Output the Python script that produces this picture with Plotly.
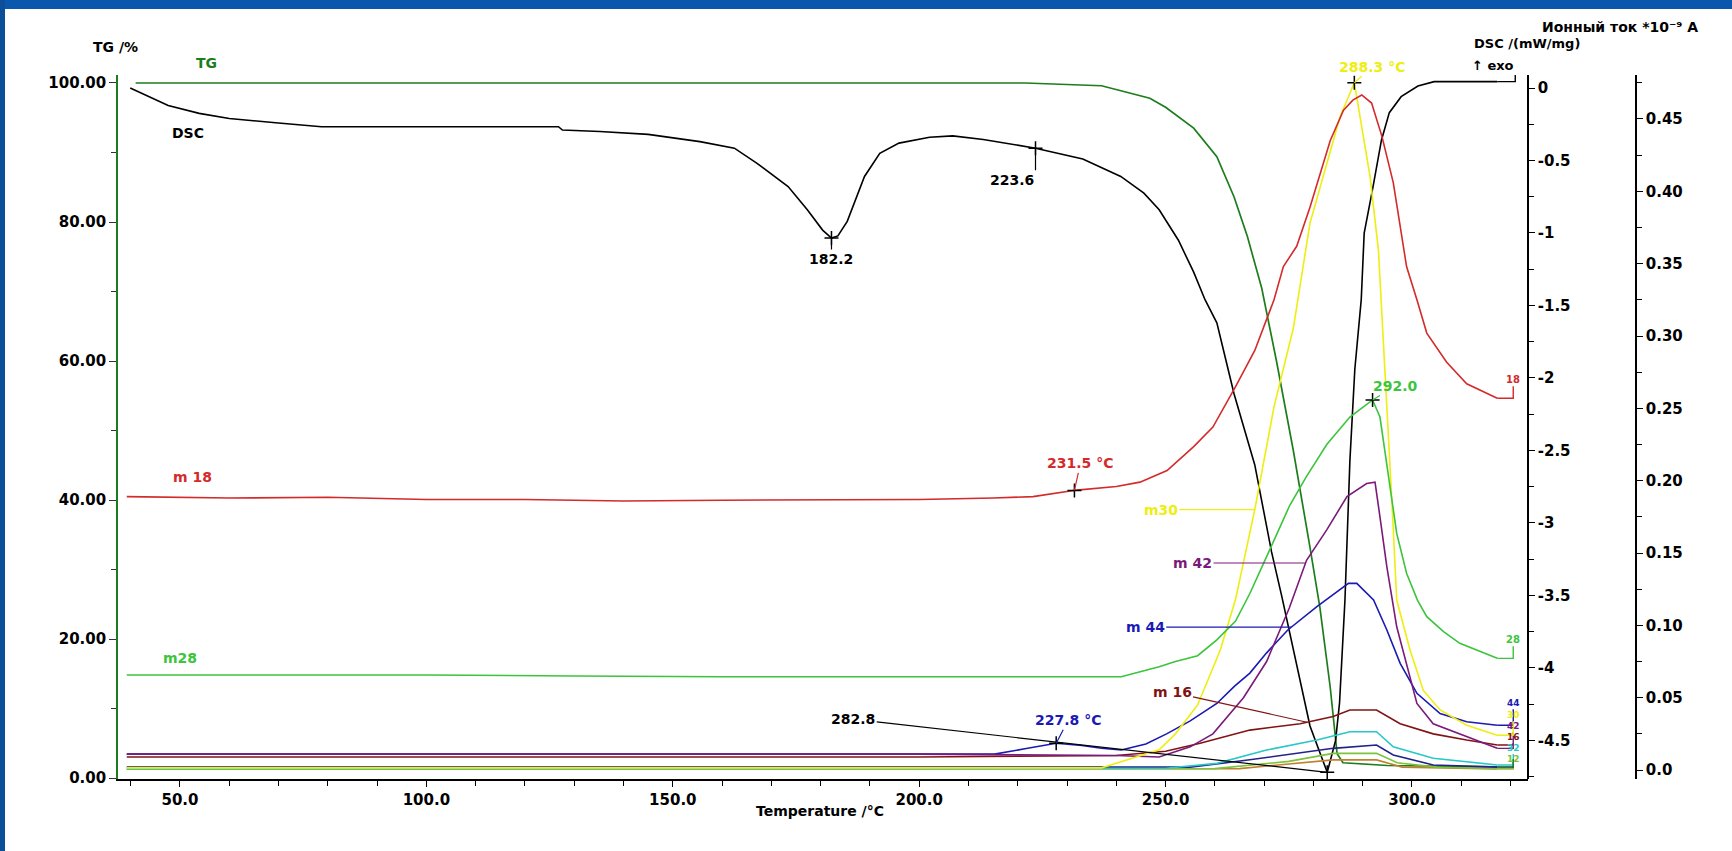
import numpy as np
import plotly.graph_objects as go

# ---------------- data ----------------
# DSC signal, mW/mg (exo up)
dsc_temp = [39.9, 43.0, 47.6, 53.9, 60.0, 69.4, 78.7, 100.0, 126.8, 127.6, 135.2, 145.0,
            155.5, 162.5, 167.1, 173.4, 177.3, 180.4, 182.2, 183.5, 185.4, 188.9, 192.0,
            195.9, 202.1, 206.8, 213.0, 223.6, 233.2, 240.9, 245.6, 248.7, 252.6, 255.7,
            258.0, 260.4, 263.9, 268.1, 271.5, 273.6, 275.3, 279.3, 282.8, 284.5, 285.3,
            286.4, 287.4, 288.4, 289.7, 290.3, 292.1, 293.8, 295.4, 297.8, 301.2, 304.5, 317.3]
dsc_val = [0.0, -0.05, -0.12, -0.175, -0.21, -0.24, -0.267, -0.267, -0.267, -0.29, -0.30, -0.32,
           -0.37, -0.415, -0.52, -0.68, -0.84, -0.98, -1.035, -1.02, -0.92, -0.61, -0.45,
           -0.38, -0.34, -0.33, -0.355, -0.415, -0.49, -0.61, -0.725, -0.84, -1.05, -1.27,
           -1.46, -1.62, -2.11, -2.6, -3.2, -3.51, -3.78, -4.4, -4.72, -4.5, -4.24,
           -3.53, -2.57, -1.94, -1.46, -1.0, -0.68, -0.36, -0.17, -0.06, 0.014, 0.044, 0.044]

# TG, mass %
tg_temp = [41.0, 100.0, 150.0, 200.0, 221.5, 237.0, 246.8, 250.0, 255.7, 260.4, 263.9, 266.6,
           269.5, 272.5, 275.9, 279.3, 281.3, 283.4, 284.0, 284.8, 286.0, 295.0, 317.3]
tg_val = [100.0, 100.0, 100.0, 100.0, 100.0, 99.6, 97.8, 96.5, 93.5, 89.4, 83.6, 77.9,
          70.5, 60.0, 47.2, 33.2, 24.6, 13.1, 8.8, 3.5, 2.2, 1.8, 1.6]

# ion currents, 1e-9 A
m18_temp = [39.2, 60.0, 80.0, 100.0, 120.0, 140.0, 160.0, 180.0, 200.0, 215.0, 223.1, 232.0,
            240.0, 244.8, 250.3, 255.7, 259.6, 264.2, 268.1, 272.0, 273.9, 276.6, 279.3, 283.4,
            286.1, 288.0, 289.8, 291.8, 293.9, 296.2, 298.9, 301.0, 303.0, 307.0, 311.1, 317.3]
m18_val = [0.189, 0.188, 0.1885, 0.187, 0.187, 0.186, 0.1865, 0.1865, 0.187, 0.188, 0.189, 0.1935,
           0.196, 0.199, 0.207, 0.2235, 0.237, 0.265, 0.29, 0.325, 0.348, 0.362, 0.389, 0.435,
           0.456, 0.463, 0.4666, 0.461, 0.438, 0.406, 0.348, 0.325, 0.302, 0.282, 0.267, 0.257]

m28_temp = [39.2, 100.0, 130.0, 160.0, 200.0, 241.0, 248.7, 252.0, 256.5, 260.4, 264.2, 267.1,
            271.9, 275.2, 278.6, 282.7, 287.4, 292.0, 293.5, 294.9, 296.9, 298.9, 301.1, 303.0,
            306.4, 309.7, 313.8, 317.3]
m28_val = [0.0657, 0.0657, 0.065, 0.0645, 0.0645, 0.0645, 0.0714, 0.075, 0.079, 0.090, 0.103, 0.122,
           0.158, 0.183, 0.203, 0.225, 0.244, 0.2558, 0.244, 0.21, 0.1636, 0.136, 0.1175, 0.106,
           0.0956, 0.0876, 0.0818, 0.0772]

m30_temp = [39.2, 150.0, 237.0, 248.7, 252.0, 256.5, 261.1, 264.2, 268.1, 272.0, 275.9, 279.3,
            282.7, 285.4, 288.3, 289.5, 291.5, 293.2, 294.9, 295.9, 296.9, 299.6, 302.3, 305.7,
            311.1, 317.3]
m30_val = [0.0015, 0.0015, 0.0015, 0.014, 0.025, 0.045, 0.083, 0.118, 0.18, 0.251, 0.305, 0.378,
           0.42, 0.4516, 0.475, 0.45, 0.41, 0.359, 0.256, 0.187, 0.1175, 0.083, 0.055, 0.0415,
           0.031, 0.024]

m42_temp = [39.2, 100.0, 200.0, 240.0, 248.7, 255.0, 259.6, 265.8, 270.5, 275.1, 278.6, 282.7,
            286.8, 290.8, 292.5, 293.5, 294.9, 296.9, 298.9, 301.0, 304.3, 311.1, 317.3]
m42_val = [0.011, 0.011, 0.011, 0.010, 0.009, 0.016, 0.025, 0.05, 0.075, 0.112, 0.145, 0.166,
           0.189, 0.198, 0.199, 0.175, 0.1405, 0.099, 0.0737, 0.046, 0.032, 0.023, 0.015]

m44_temp = [39.2, 100.0, 150.0, 200.0, 215.3, 222.0, 227.8, 233.0, 237.0, 241.0, 246.0, 250.2,
            255.0, 260.4, 264.0, 267.1, 270.5, 274.8, 280.7, 287.1, 288.8, 292.2, 294.9, 297.6,
            301.0, 305.7, 311.1, 317.3]
m44_val = [0.011, 0.011, 0.011, 0.011, 0.011, 0.015, 0.0185, 0.017, 0.015, 0.0138, 0.018, 0.025,
           0.034, 0.046, 0.058, 0.067, 0.081, 0.0968, 0.113, 0.129, 0.129, 0.1175, 0.0968, 0.0737,
           0.053, 0.039, 0.0334, 0.031]

m16_temp = [39.2, 100.0, 200.0, 240.0, 250.0, 257.0, 267.1, 277.3, 284.0, 287.4, 292.8, 297.6,
            304.3, 311.1, 317.3]
m16_val = [0.009, 0.009, 0.009, 0.010, 0.013, 0.0185, 0.0276, 0.032, 0.037, 0.0415, 0.0415, 0.032,
           0.025, 0.0207, 0.0173]

m32_temp = [39.2, 150.0, 250.0, 260.4, 270.5, 280.7, 287.4, 292.8, 296.2, 304.3, 317.3]
m32_val = [0.001, 0.001, 0.0012, 0.0046, 0.0138, 0.0207, 0.0265, 0.0265, 0.016, 0.0081, 0.0035]

m14_temp = [39.2, 150.0, 255.0, 266.7, 284.0, 292.8, 296.2, 304.3, 317.3]
m14_val = [0.002, 0.002, 0.002, 0.0069, 0.015, 0.0173, 0.0104, 0.0035, 0.002]

m12_temp = [39.2, 260.0, 275.0, 284.0, 292.8, 297.0, 305.0, 317.3]
m12_val = [0.0005, 0.001, 0.006, 0.0115, 0.0115, 0.005, 0.002, 0.001]

m15_temp = [39.2, 265.0, 284.0, 292.8, 298.0, 317.3]
m15_val = [0.0005, 0.001, 0.007, 0.007, 0.002, 0.0008]

# axis ticks
x_ticks = [50, 100, 150, 200, 250, 300]
x_ticktext = ["50.0", "100.0", "150.0", "200.0", "250.0", "300.0"]
tg_ticks = [0, 20, 40, 60, 80, 100]
tg_ticktext = ["0.00", "20.00", "40.00", "60.00", "80.00", "100.00"]
dsc_ticks = [0, -0.5, -1, -1.5, -2, -2.5, -3, -3.5, -4, -4.5]
dsc_ticktext = ["0", "-0.5", "-1", "-1.5", "-2", "-2.5", "-3", "-3.5", "-4", "-4.5"]
ion_ticks = [0.0, 0.05, 0.10, 0.15, 0.20, 0.25, 0.30, 0.35, 0.40, 0.45]
ion_ticktext = ["0.0", "0.05", "0.10", "0.15", "0.20", "0.25", "0.30", "0.35", "0.40", "0.45"]

# ---------------- layout geometry ----------------
W, H = 1732, 851
ML, MR, MT, MB = 118, 96, 75, 72
PW, PH = W - ML - MR, H - MT - MB
X_DOMAIN_END = (1528 - ML) / PW


def paper(px, py):
    return (px - ML) / PW, (H - MB - py) / PH


FAM = "DejaVu Sans"
def font(size=14, color="black"):
    return dict(family=FAM, size=size, color=color, weight="bold")


C_TG = "#1d7d1d"
C_DSC = "#000000"
C_18 = "#d42a2a"
C_28 = "#3cc43c"
C_30 = "#eeee10"
C_42 = "#7a1a7a"
C_44 = "#1a1ab4"
C_16 = "#801414"
C_32 = "#28c8c8"
C_14 = "#22228a"
C_12 = "#7cc23a"
C_15 = "#c08030"

fig = go.Figure()

# (temps, values, colour, end tag, hook height in px)
ion_series = [
    (m15_temp, m15_val, C_15, "", 5),
    (m12_temp, m12_val, C_12, "12", 4),
    (m14_temp, m14_val, C_14, "", 7),
    (m32_temp, m32_val, C_32, "32", 11),
    (m16_temp, m16_val, C_16, "16", 2),
    (m44_temp, m44_val, C_44, "44", 16),
    (m42_temp, m42_val, C_42, "42", 16),
    (m30_temp, m30_val, C_30, "30", 14),
    (m28_temp, m28_val, C_28, "28", 12),
    (m18_temp, m18_val, C_18, "18", 12),
]
for t, v, col, tag, hook in ion_series:
    fig.add_trace(go.Scatter(x=t, y=v, mode="lines", yaxis="y3", showlegend=False,
                             line=dict(color=col, width=1.6)))

fig.add_trace(go.Scatter(x=tg_temp, y=tg_val, mode="lines", yaxis="y", showlegend=False,
                         line=dict(color=C_TG, width=1.7)))
fig.add_trace(go.Scatter(x=dsc_temp, y=dsc_val, mode="lines", yaxis="y2", showlegend=False,
                         line=dict(color=C_DSC, width=1.6)))

# peak / onset marks
marks = [
    (182.2, dsc_temp, dsc_val, "y2"),
    (223.6, dsc_temp, dsc_val, "y2"),
    (282.8, dsc_temp, dsc_val, "y2"),
    (231.5, m18_temp, m18_val, "y3"),
    (227.8, m44_temp, m44_val, "y3"),
    (288.3, m30_temp, m30_val, "y3"),
    (292.0, m28_temp, m28_val, "y3"),
]
for T, t, v, ax_name in marks:
    fig.add_trace(go.Scatter(x=[T], y=[float(np.interp(T, t, v))], mode="markers", yaxis=ax_name,
                             showlegend=False,
                             marker=dict(symbol="cross-thin", size=10, line=dict(color="black", width=1.5))))

annotations = []


def leader(text, T, t, v, yref, ax, ay, color, tcolor=None, **kw):
    annotations.append(dict(
        x=T, y=float(np.interp(T, t, v)), xref="x", yref=yref, text=text,
        showarrow=True, arrowhead=0, arrowwidth=1.2, arrowcolor=color,
        ax=ax, ay=ay, font=font(14, tcolor or color), **kw))


leader("182.2", 182.2, dsc_temp, dsc_val, "y2", 0, 21, "black")
leader("223.6", 223.6, dsc_temp, dsc_val, "y2", 0, 22, "black", xanchor="right", yanchor="top")
leader("282.8", 282.8, dsc_temp, dsc_val, "y2", -474, -53, "black")
leader("231.5 °C", 231.5, m18_temp, m18_val, "y3", 6, -27, C_18)
leader("227.8 °C", 227.8, m44_temp, m44_val, "y3", 12, -23, C_44)
leader("288.3 °C", 288.3, m30_temp, m30_val, "y3", 18, -16, C_30)
leader("292.0", 292.0, m28_temp, m28_val, "y3", 23, -14, C_28)
leader("m30", 268.1, m30_temp, m30_val, "y3", -94, 0, C_30)
leader("m 42", 278.4, m42_temp, m42_val, "y3", -113, 0, C_42)
leader("m 44", 275.5, m44_temp, m44_val, "y3", -146, 0, C_44)
leader("m 16", 278.7, m16_temp, m16_val, "y3", -135, -30, C_16)

# curve-end tags with small hooks
HOOK_DX = 16
shapes = []
for t, v, col, tag, hook in ion_series:
    shapes.append(dict(type="path", xref="x", yref="y3", xsizemode="pixel", ysizemode="pixel",
                       xanchor=t[-1], yanchor=v[-1],
                       path=f"M0,0 L{HOOK_DX},0 L{HOOK_DX},{hook}",
                       line=dict(color=col, width=1.4)))
    if tag:
        size = 10 if tag in ("18", "28") else 9
        annotations.append(dict(x=t[-1], y=v[-1], xref="x", yref="y3", text=tag, showarrow=False,
                                xshift=HOOK_DX, yshift=hook, yanchor="bottom", xanchor="center",
                                font=font(size, col), borderpad=0))

shapes.append(dict(type="path", xref="x", yref="y", xsizemode="pixel", ysizemode="pixel",
                   xanchor=tg_temp[-1], yanchor=tg_val[-1],
                   path=f"M0,0 L{HOOK_DX},0 L{HOOK_DX},8", line=dict(color=C_TG, width=1.4)))
shapes.append(dict(type="path", xref="x", yref="y2", xsizemode="pixel", ysizemode="pixel",
                   xanchor=dsc_temp[-1], yanchor=dsc_val[-1],
                   path=f"M0,0 L{HOOK_DX + 2},0 L{HOOK_DX + 2},8", line=dict(color="black", width=1.4)))
annotations.append(dict(x=dsc_temp[-1], y=dsc_val[-1], xref="x", yref="y2", text="↑ exo",
                        showarrow=False, xshift=HOOK_DX + 3, yshift=7, yanchor="bottom",
                        xanchor="right", font=font(13)))

# free text labels
def label(text, px, py, color="black", size=14, xanchor="center"):
    x, y = paper(px, py)
    annotations.append(dict(x=x, y=y, xref="paper", yref="paper", text=text, showarrow=False,
                            xanchor=xanchor, yanchor="middle", font=font(size, color)))


label("TG /%", 115, 47)
label("TG", 206, 63, C_TG)
label("DSC", 188, 133)
label("m 18", 192, 477, C_18)
label("m28", 180, 658, C_28)
label("Temperature /°C", 820, 811)
label("DSC /(mW/mg)", 1527, 43, size=13)
label("Ионный ток *10⁻⁹ A", 1540, 27, size=14, xanchor="left")

# slide frame (blue bands at top and left)
x0, y0 = paper(0, 0)
x1, y1 = paper(W, 9)
shapes.append(dict(type="rect", xref="paper", yref="paper", x0=x0, x1=x1, y0=y1, y1=y0,
                   fillcolor="#0a57ae", line=dict(width=0), layer="above"))
x0, y0 = paper(0, 0)
x1, y1 = paper(5, H)
shapes.append(dict(type="rect", xref="paper", yref="paper", x0=x0, x1=x1, y0=y1, y1=y0,
                   fillcolor="#0b4f98", line=dict(width=0), layer="above"))

tickfont = font(15)
fig.update_layout(
    width=W, height=H, autosize=False,
    margin=dict(l=ML, r=MR, t=MT, b=MB, pad=0),
    paper_bgcolor="white", plot_bgcolor="white",
    showlegend=False,
    xaxis=dict(domain=[0, X_DOMAIN_END], range=[37.42, 323.54], showgrid=False, zeroline=False,
               showline=True, linecolor="black", linewidth=1.5,
               ticks="outside", ticklen=6, tickwidth=1.2, tickcolor="black",
               tickvals=x_ticks, ticktext=x_ticktext, tickfont=tickfont,
               minor=dict(dtick=10, tick0=0, ticks="outside", ticklen=5, tickcolor="black")),
    yaxis=dict(range=[-0.14, 101.15], showgrid=False, zeroline=False,
               showline=True, linecolor=C_TG, linewidth=1.6,
               ticks="outside", ticklen=7, tickwidth=1.2, tickcolor="#333333",
               tickvals=tg_ticks, ticktext=tg_ticktext, tickfont=tickfont,
               minor=dict(dtick=10, tick0=0, ticks="outside", ticklen=5, tickcolor="#333333")),
    yaxis2=dict(range=[-4.766, 0.0897], overlaying="y", anchor="free", position=X_DOMAIN_END,
                side="right", showgrid=False, zeroline=False,
                showline=True, linecolor="black", linewidth=1.5,
                ticks="outside", ticklen=6, tickwidth=1.2, tickcolor="black",
                tickvals=dsc_ticks, ticktext=dsc_ticktext, tickfont=tickfont,
                minor=dict(dtick=0.25, tick0=0, ticks="outside", ticklen=5, tickcolor="black")),
    yaxis3=dict(range=[-0.0062, 0.4804], overlaying="y", anchor="free", position=1.0,
                side="right", showgrid=False, zeroline=False,
                showline=True, linecolor="black", linewidth=1.5,
                ticks="outside", ticklen=6, tickwidth=1.2, tickcolor="black",
                tickvals=ion_ticks, ticktext=ion_ticktext, tickfont=tickfont,
                minor=dict(dtick=0.025, tick0=0, ticks="outside", ticklen=5, tickcolor="black")),
    annotations=annotations,
    shapes=shapes,
)

fig.write_html("out.html")
